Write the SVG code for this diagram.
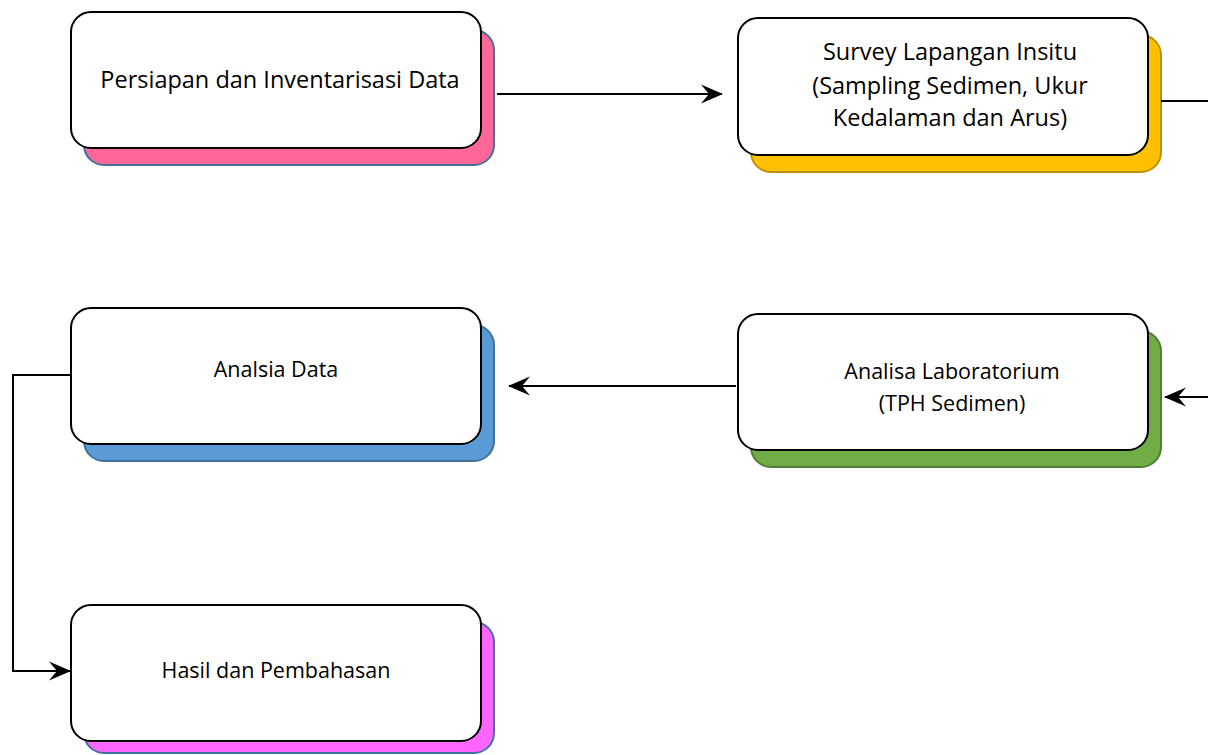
<svg xmlns="http://www.w3.org/2000/svg" width="1208" height="755" viewBox="0 0 1208 755">
<defs>
<style>
.box{fill:#fff;stroke:#000;stroke-width:2}
.sh{stroke-width:2}
.t{font-family:"Open Sans","Liberation Sans",sans-serif;fill:#000;text-anchor:middle}
.big{font-size:23.5px}
.sm{font-size:21.5px}
.ln{fill:none;stroke:#000;stroke-width:2}
</style>
<marker id="ah" markerWidth="24" markerHeight="22" refX="21" refY="11" orient="auto" markerUnits="userSpaceOnUse">
<path d="M0,1.5 L22,11 L0,20.5 L8,11 Z" fill="#000"/>
</marker>
</defs>
<rect width="1208" height="755" fill="#fff"/>
<g id="n1">
<rect class="sh" x="84" y="30" width="410" height="135" rx="20" fill="#FF6699" stroke="#41719C"/>
<rect class="box" x="71" y="12" width="410" height="136" rx="20"/>
<text class="t big" x="280" y="88">Persiapan dan Inventarisasi Data</text>
</g>
<g id="n2">
<rect class="sh" x="751" y="35" width="410" height="137" rx="20" fill="#FFC000" stroke="#BF9000"/>
<rect class="box" x="738" y="18" width="410" height="137" rx="20"/>
<text class="t big" x="950" y="60">Survey Lapangan Insitu</text>
<text class="t big" x="950" y="94">(Sampling Sedimen, Ukur</text>
<text class="t big" x="950" y="126">Kedalaman dan Arus)</text>
</g>
<g id="n3">
<rect class="sh" x="751" y="331" width="410" height="136" rx="20" fill="#70AD47" stroke="#507E32"/>
<rect class="box" x="738" y="314" width="410" height="136" rx="20"/>
<text class="t sm" x="952" y="379">Analisa Laboratorium</text>
<text class="t sm" x="952" y="411">(TPH Sedimen)</text>
</g>
<g id="n4">
<rect class="sh" x="84" y="325" width="410" height="136" rx="20" fill="#5B9BD5" stroke="#41719C"/>
<rect class="box" x="71" y="308" width="410" height="136" rx="20"/>
<text class="t sm" x="276" y="377">Analsia Data</text>
</g>
<g id="n5">
<rect class="sh" x="84" y="622" width="410" height="131" rx="20" fill="#FF66FF" stroke="#41719C"/>
<rect class="box" x="71" y="605" width="410" height="136" rx="20"/>
<text class="t sm" x="276" y="678">Hasil dan Pembahasan</text>
</g>
<g id="connectors">
<line class="ln" x1="497" y1="94" x2="722" y2="94" marker-end="url(#ah)"/>
<line class="ln" x1="1161" y1="101" x2="1208" y2="101"/>
<line class="ln" x1="1210" y1="397" x2="1165" y2="397" marker-end="url(#ah)"/>
<line class="ln" x1="736" y1="386" x2="509" y2="386" marker-end="url(#ah)"/>
<polyline class="ln" points="71,375 13,375 13,671 70,671" marker-end="url(#ah)"/>
</g>
</svg>
